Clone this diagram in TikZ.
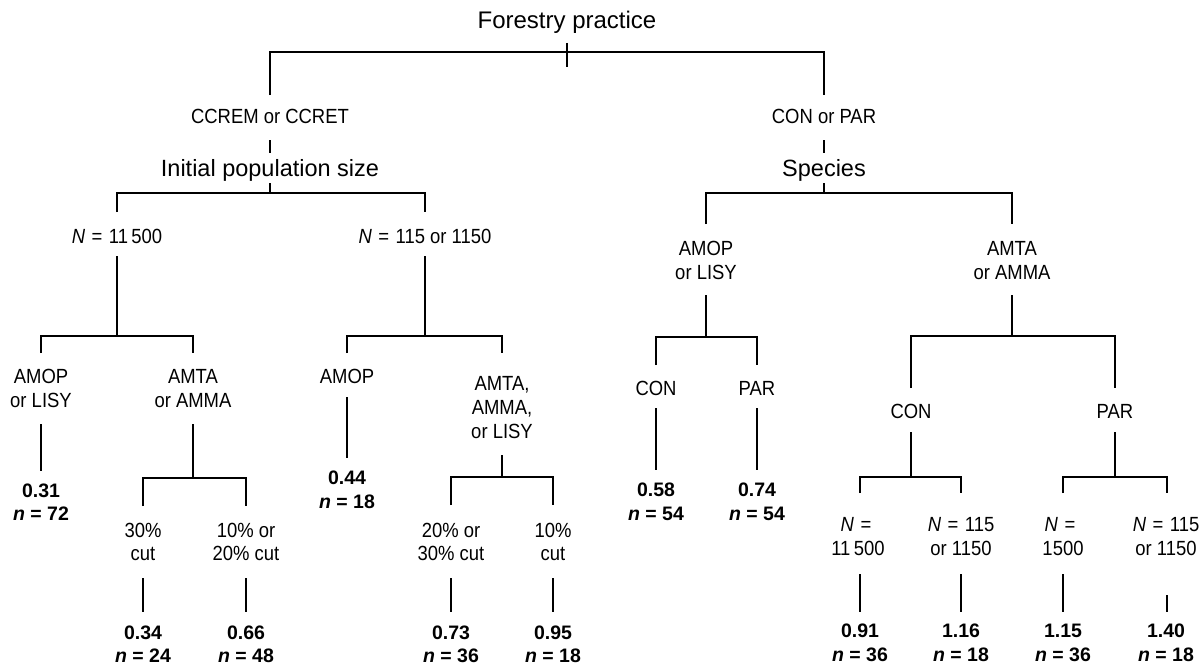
\documentclass[tikz,border=0pt]{standalone}
\usepackage{fontspec}
\setmainfont{Liberation Sans}
\newfontfamily\nar[FakeStretch=0.9]{Liberation Sans}
\newcommand{\eqs}{\hspace{6.5pt}=\hspace{6.5pt}}
\begin{document}
\begin{tikzpicture}[x=1pt,y=-1pt,
  br/.style={line width=1.7pt,line cap=butt},
  lbl/.style={inner sep=0pt,anchor=base,font=\nar\fontsize{20.5}{24}\selectfont},
  val/.style={inner sep=0pt,anchor=base,font=\fontsize{19.5}{24}\selectfont\bfseries},
  head/.style={inner sep=0pt,anchor=base,font=\fontsize{23.5}{28}\selectfont},
  ttl/.style={inner sep=0pt,anchor=base,font=\fontsize{24}{28}\selectfont}]
\useasboundingbox (0,0) rectangle (1204,669);
% ---------- root ----------
\node[ttl] (root) at (567,29) {Forestry practice};
\draw[br] (567,43) coordinate (rt1) -- (567,67) coordinate (rt2);
\draw[br] (270,95) coordinate (rl) -- (270,52) coordinate (rbl) -- (824,52) coordinate (rbr) -- (824,95) coordinate (rr);
% ---------- left subtree ----------
\node[lbl] (ccrem) at (270,123) {CCREM or CCRET};
\draw[br] (270,140) coordinate (c1) -- (270,153) coordinate (c2);
\node[head] (ips) at (270,176) {Initial population size};
\draw[br] (270,183) coordinate (i1) -- (270,193) coordinate (i2);
\draw[br] (117,212) coordinate (i3) -- (117,193) coordinate (i4) -- (425,193) coordinate (i5) -- (425,212) coordinate (i6);
\node[lbl] (nbig) at (117,243) {\textit{N}\eqs11\,500};
\node[lbl] (nsmall) at (425,243) {\textit{N}\eqs115 or 1150};
% N = 11500 branch
\draw[br] (117,256) coordinate (a1) -- (117,336) coordinate (a2);
\draw[br] (41,353) coordinate (a3) -- (41,336) coordinate (a4) -- (193,336) coordinate (a5) -- (193,353) coordinate (a6);
\node[lbl] (la1) at (41,383) {AMOP};
\node[lbl] (la2) at (41,407) {or LISY};
\node[lbl] (lb1) at (193,383) {AMTA};
\node[lbl] (lb2) at (193,407) {or AMMA};
\draw[br] (41,424) coordinate (a7) -- (41,471) coordinate (a8);
\node[val] (v031) at (41,497) {0.31};
\node[val] (n72) at (41,520) {\textit{n} = 72};
\draw[br] (193,424) coordinate (b1) -- (193,478) coordinate (b2);
\draw[br] (143,506) coordinate (b3) -- (143,478) coordinate (b4) -- (246,478) coordinate (b5) -- (246,506) coordinate (b6);
\node[lbl] (c30a) at (143,537) {30\%};
\node[lbl] (c30b) at (143,560) {cut};
\node[lbl] (c10a) at (246,537) {10\% or};
\node[lbl] (c10b) at (246,560) {20\% cut};
\draw[br] (143,578) coordinate (b7) -- (143,612) coordinate (b8);
\draw[br] (246,578) coordinate (b9) -- (246,612) coordinate (b10);
\node[val] (v034) at (143,639) {0.34};
\node[val] (n24) at (143,662) {\textit{n} = 24};
\node[val] (v066) at (246,639) {0.66};
\node[val] (n48) at (246,662) {\textit{n} = 48};
% N = 115 or 1150 branch
\draw[br] (425,256) coordinate (d1) -- (425,336) coordinate (d2);
\draw[br] (347,353) coordinate (d3) -- (347,336) coordinate (d4) -- (502,336) coordinate (d5) -- (502,353) coordinate (d6);
\node[lbl] (amopm) at (347,383) {AMOP};
\draw[br] (347,397) coordinate (d7) -- (347,458) coordinate (d8);
\node[val] (v044) at (347,484) {0.44};
\node[val] (n18a) at (347,508) {\textit{n} = 18};
\node[lbl] (am1) at (502,390) {AMTA,};
\node[lbl] (am2) at (502,414) {AMMA,};
\node[lbl] (am3) at (502,438) {or LISY};
\draw[br] (502,455) coordinate (e1) -- (502,477) coordinate (e2);
\draw[br] (451,505) coordinate (e3) -- (451,477) coordinate (e4) -- (553,477) coordinate (e5) -- (553,505) coordinate (e6);
\node[lbl] (c20a) at (451,537) {20\% or};
\node[lbl] (c20b) at (451,560) {30\% cut};
\node[lbl] (c1a) at (553,537) {10\%};
\node[lbl] (c1b) at (553,560) {cut};
\draw[br] (451,578) coordinate (e7) -- (451,612) coordinate (e8);
\draw[br] (553,578) coordinate (e9) -- (553,612) coordinate (e10);
\node[val] (v073) at (451,639) {0.73};
\node[val] (n36a) at (451,662) {\textit{n} = 36};
\node[val] (v095) at (553,639) {0.95};
\node[val] (n18b) at (553,662) {\textit{n} = 18};
% ---------- right subtree ----------
\node[lbl] (conpar) at (824,123) {CON or PAR};
\draw[br] (824,140) coordinate (f1) -- (824,153) coordinate (f2);
\node[head] (species) at (824,176) {Species};
\draw[br] (824,183) coordinate (f3) -- (824,193) coordinate (f4);
\draw[br] (706,224) coordinate (f5) -- (706,193) coordinate (f6) -- (1012,193) coordinate (f7) -- (1012,224) coordinate (f8);
\node[lbl] (ra1) at (706,255) {AMOP};
\node[lbl] (ra2) at (706,279) {or LISY};
\node[lbl] (rb1) at (1012,255) {AMTA};
\node[lbl] (rb2) at (1012,279) {or AMMA};
% AMOP or LISY
\draw[br] (706,295) coordinate (g1) -- (706,337) coordinate (g2);
\draw[br] (656,365) coordinate (g3) -- (656,337) coordinate (g4) -- (757,337) coordinate (g5) -- (757,365) coordinate (g6);
\node[lbl] (con1) at (656,395) {CON};
\node[lbl] (par1) at (757,395) {PAR};
\draw[br] (656,408) coordinate (g7) -- (656,470) coordinate (g8);
\draw[br] (757,408) coordinate (g9) -- (757,470) coordinate (g10);
\node[val] (v058) at (656,496) {0.58};
\node[val] (n54a) at (656,520) {\textit{n} = 54};
\node[val] (v074) at (757,496) {0.74};
\node[val] (n54b) at (757,520) {\textit{n} = 54};
% AMTA or AMMA
\draw[br] (1012,295) coordinate (h1) -- (1012,336) coordinate (h2);
\draw[br] (911,388) coordinate (h3) -- (911,336) coordinate (h4) -- (1115,336) coordinate (h5) -- (1115,388) coordinate (h6);
\node[lbl] (con2) at (911,418) {CON};
\node[lbl] (par2) at (1115,418) {PAR};
\draw[br] (911,432) coordinate (h7) -- (911,477) coordinate (h8);
\draw[br] (860,493) coordinate (h9) -- (860,477) coordinate (h10) -- (961,477) coordinate (h11) -- (961,493) coordinate (h12);
\draw[br] (1115,432) coordinate (k1) -- (1115,477) coordinate (k2);
\draw[br] (1063,493) coordinate (k3) -- (1063,477) coordinate (k4) -- (1167,477) coordinate (k5) -- (1167,493) coordinate (k6);
\node[lbl] (na1) at (856,531) {\textit{N}\hspace{6.5pt}=};
\node[lbl] (na2) at (858,555) {11\,500};
\node[lbl] (nb1) at (961,531) {\textit{N}\eqs115};
\node[lbl] (nb2) at (961,555) {or 1150};
\node[lbl] (nc1) at (1060,531) {\textit{N}\hspace{6.5pt}=};
\node[lbl] (nc2) at (1063,555) {1500};
\node[lbl] (nd1) at (1166,531) {\textit{N}\eqs115};
\node[lbl] (nd2) at (1166,555) {or 1150};
\draw[br] (860,574) coordinate (m1) -- (860,612) coordinate (m2);
\draw[br] (961,574) coordinate (m3) -- (961,612) coordinate (m4);
\draw[br] (1063,574) coordinate (m5) -- (1063,612) coordinate (m6);
\draw[br] (1167,595) coordinate (m7) -- (1167,612) coordinate (m8);
\node[val] (v091) at (860,637) {0.91};
\node[val] (n36b) at (860,661) {\textit{n} = 36};
\node[val] (v116) at (961,637) {1.16};
\node[val] (n18c) at (961,661) {\textit{n} = 18};
\node[val] (v115) at (1063,637) {1.15};
\node[val] (n36c) at (1063,661) {\textit{n} = 36};
\node[val] (v140) at (1166,637) {1.40};
\node[val] (n18d) at (1166,661) {\textit{n} = 18};
\end{tikzpicture}
\end{document}
